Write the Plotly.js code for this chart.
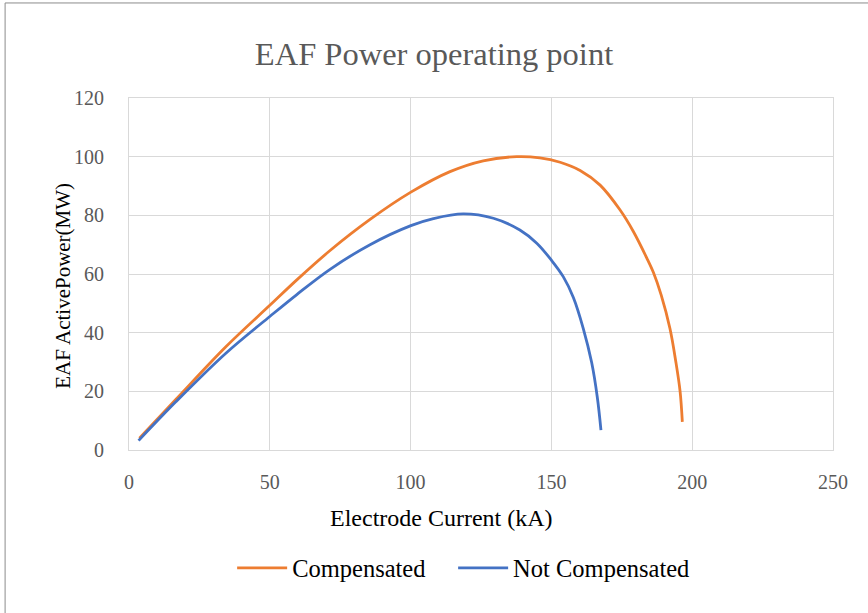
<!DOCTYPE html>
<html>
<head>
<meta charset="utf-8">
<script src="https://cdn.plot.ly/plotly-3.0.1.min.js"></script>
<style>html,body{margin:0;padding:0;background:#fff;}#chart{width:868px;height:613px;}</style>
</head>
<body>
<div id="chart"></div>
<script>
// Compensated (orange)
const compX = [3.7, 16.7, 34.4, 50.1, 59.6, 71.4, 85.6, 100.1, 114.0, 125.8, 137.7, 145.9, 153.1, 160.2, 167.3, 174.4, 179.1, 183.8, 186.2, 189.0, 192.1, 194.2, 195.7, 196.5];
const compY = [4.0, 17.3, 35.2, 49.4, 58.0, 68.0, 78.6, 87.9, 94.9, 98.6, 100.0, 99.6, 98.1, 95.3, 90.3, 81.8, 74.5, 65.6, 60.6, 52.8, 41.4, 30.0, 20.0, 9.6];
// Not Compensated (blue)
const notX = [3.4, 16.7, 34.4, 50.1, 59.6, 71.4, 85.6, 100.1, 108.1, 118.7, 129.4, 138.8, 144.8, 150.1, 154.2, 157.8, 161.3, 164.3, 166.3, 167.6];
const notY = [3.2, 16.5, 33.0, 45.6, 53.0, 61.6, 70.0, 76.5, 78.9, 80.5, 79.0, 75.0, 70.5, 64.6, 59.1, 52.0, 41.5, 29.8, 18.0, 6.8];
const seriesNames = ["Compensated", "Not Compensated"];
const xTicks = [0, 50, 100, 150, 200, 250];
const yTicks = [0, 20, 40, 60, 80, 100, 120];
const chartTitle = "EAF Power operating point";
const xTitle = "Electrode Current (kA)";
const yTitle = "EAF ActivePower(MW)";

const serif = "Liberation Serif, Times New Roman, serif";

const traces = [
  {x: compX, y: compY, name: seriesNames[0], mode: "lines", type: "scatter", legend: "legend",
   line: {color: "#ED7D31", width: 2.8, shape: "spline", smoothing: 1}},
  {x: notX, y: notY, name: seriesNames[1], mode: "lines", type: "scatter", legend: "legend2",
   line: {color: "#4472C4", width: 2.8, shape: "spline", smoothing: 1}}
];

const legendBase = {orientation: "h", xanchor: "left", y: -0.335, yanchor: "middle",
  font: {family: serif, size: 24.5, color: "#000000"}, itemwidth: 50, bgcolor: "rgba(0,0,0,0)"};

const layout = {
  width: 868, height: 613,
  margin: {l: 129, r: 35, t: 98, b: 163},
  paper_bgcolor: "#ffffff", plot_bgcolor: "#ffffff",
  font: {family: serif, color: "#595959"},
  title: {text: chartTitle, font: {family: serif, size: 32.5, color: "#595959"},
          x: 0.5, xanchor: "center", y: 0.913, yanchor: "middle"},
  xaxis: {range: [0, 250], tickvals: xTicks, ticktext: xTicks.map(String),
          showgrid: true, gridcolor: "#d9d9d9", gridwidth: 1,
          zeroline: false, showline: true, linecolor: "#d9d9d9", mirror: true,
          ticks: "outside", ticklen: 14, tickcolor: "rgba(0,0,0,0)",
          tickfont: {family: serif, size: 20, color: "#595959"}},
  yaxis: {range: [0, 120], tickvals: yTicks, ticktext: yTicks.map(String),
          showgrid: true, gridcolor: "#d9d9d9", gridwidth: 1,
          zeroline: false, showline: true, linecolor: "#d9d9d9", mirror: true,
          ticks: "outside", ticklen: 20, tickcolor: "rgba(0,0,0,0)",
          tickfont: {family: serif, size: 20, color: "#595959"}},
  annotations: [
    {text: xTitle, xref: "paper", yref: "paper", x: 0.4446, y: -0.193,
     xanchor: "center", yanchor: "middle", showarrow: false,
     font: {family: serif, size: 24, color: "#000000"}},
    {text: yTitle, xref: "paper", yref: "paper", x: -0.094, y: 0.466, textangle: -90,
     xanchor: "center", yanchor: "middle", showarrow: false,
     font: {family: serif, size: 21, color: "#000000"}}
  ],
  showlegend: true,
  legend: Object.assign({}, legendBase, {x: 0.1465}),
  legend2: Object.assign({}, legendBase, {x: 0.4604}),
  shapes: [
    {type: "rect", xref: "paper", yref: "paper", x0: -0.176, x1: 1.06, y0: -0.47, y1: 1.27,
     line: {color: "#8c8c8c", width: 1}, fillcolor: "rgba(0,0,0,0)", layer: "below"}
  ]
};

Plotly.newPlot("chart", traces, layout, {displayModeBar: false, staticPlot: true});
</script>
</body>
</html>
